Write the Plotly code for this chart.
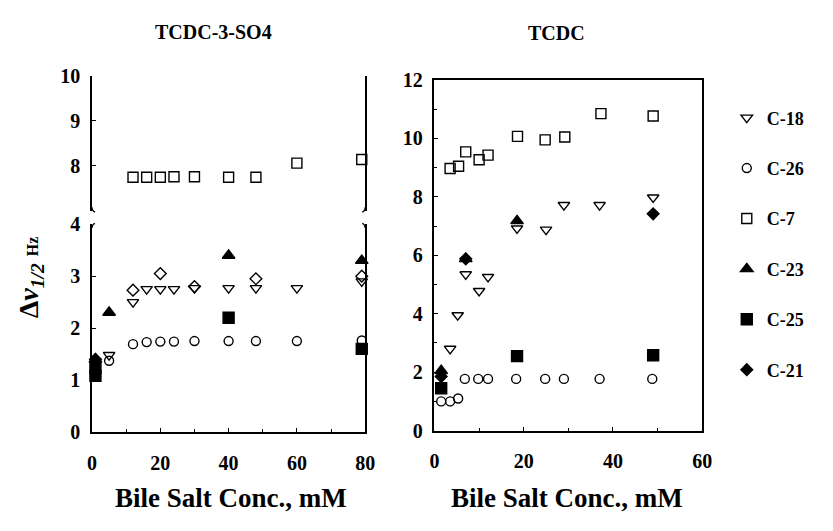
import plotly.graph_objects as go

# ---------------- data ----------------
# Left panel: TCDC-3-SO4
sulf_x = [1, 5, 12, 16, 20, 24, 30, 40, 48, 60, 79]
sulf_c18 = [1.30, 1.48, 2.50, 2.75, 2.75, 2.75, 2.77, 2.77, 2.77, 2.77, 2.90]
sulf_c26 = [1.30, 1.37, 1.69, 1.73, 1.74, 1.74, 1.75, 1.75, 1.75, 1.75, 1.76]
sulf_c7_x = [12, 16, 20, 24, 30, 40, 48, 60, 79]
sulf_c7 = [7.75, 7.75, 7.75, 7.76, 7.76, 7.75, 7.75, 8.06, 8.14]
sulf_c23_x = [1, 5, 40, 79]
sulf_c23 = [1.40, 2.30, 3.40, 3.30]
sulf_c25_x = [1, 1, 40, 79]
sulf_c25 = [1.08, 1.22, 2.20, 1.60]
sulf_c21_x = [1, 12, 20, 30, 48, 79]
sulf_c21 = [1.40, 2.73, 3.05, 2.80, 2.95, 3.00]

# Right panel: TCDC
tcdc_c18_x = [3.5, 5.2, 7, 10, 12, 18.5, 25, 29, 37, 49]
tcdc_c18 = [2.80, 3.95, 5.35, 4.78, 5.26, 6.92, 6.88, 7.72, 7.72, 7.98]
tcdc_c26_x = [1.5, 3.5, 5.3, 6.8, 9.8, 12, 18.3, 24.8, 29, 37, 48.8]
tcdc_c26 = [1.00, 1.00, 1.10, 1.77, 1.77, 1.77, 1.77, 1.77, 1.77, 1.77, 1.77]
tcdc_c7_x = [3.5, 5.4, 7, 10, 12, 18.6, 24.8, 29.2, 37.3, 49]
tcdc_c7 = [8.97, 9.05, 9.54, 9.27, 9.43, 10.07, 9.95, 10.05, 10.85, 10.77]
tcdc_c23_x = [1.5, 7, 18.5]
tcdc_c23 = [2.05, 5.88, 7.18]
tcdc_c25_x = [1.5, 18.5, 49]
tcdc_c25 = [1.45, 2.55, 2.58]
tcdc_c21_x = [1.5, 7, 49]
tcdc_c21 = [1.85, 5.88, 7.42]

series_names = ["C-18", "C-26", "C-7", "C-23", "C-25", "C-21"]
left_title = "TCDC-3-SO4"
right_title = "TCDC"
x_title = "Bile Salt Conc., mM"

# ---------------- styles ----------------
SERIF = "Liberation Serif"
BLACK = "black"
styles = {
    "C-18": dict(symbol="triangle-down-open", size=10),
    "C-26": dict(symbol="circle-open", size=9),
    "C-7": dict(symbol="square-open", size=10),
    "C-23": dict(symbol="triangle-up", size=11),
    "C-25": dict(symbol="square", size=11),
    "C-21": dict(symbol="diamond", size=9),
}

fig = go.Figure()


def add(name, x, y, xa, ya, show, symbol=None):
    st = styles[name]
    fig.add_trace(go.Scatter(
        x=x, y=y, mode="markers", name=name, legendgroup=name,
        showlegend=show, xaxis=xa, yaxis=ya, cliponaxis=False,
        marker=dict(symbol=symbol or st["symbol"], size=st["size"], color=BLACK,
                    line=dict(color=BLACK, width=1.4)),
    ))


# right panel (carries the legend), in legend order
add("C-18", tcdc_c18_x, tcdc_c18, "x3", "y3", True)
add("C-26", tcdc_c26_x, tcdc_c26, "x3", "y3", True)
add("C-7", tcdc_c7_x, tcdc_c7, "x3", "y3", True)
add("C-23", tcdc_c23_x, tcdc_c23, "x3", "y3", True)
add("C-25", tcdc_c25_x, tcdc_c25, "x3", "y3", True)
add("C-21", tcdc_c21_x, tcdc_c21, "x3", "y3", True)

# left panel, lower part of the broken axis
add("C-26", sulf_x, sulf_c26, "x", "y", False)
add("C-18", sulf_x, sulf_c18, "x", "y", False)
add("C-25", sulf_c25_x, sulf_c25, "x", "y", False)
add("C-23", sulf_c23_x, sulf_c23, "x", "y", False)
add("C-21", sulf_c21_x[:1], sulf_c21[:1], "x", "y", False)
add("C-21", sulf_c21_x[1:], sulf_c21[1:], "x", "y", False, symbol="diamond-open")
# left panel, upper part
add("C-7", sulf_c7_x, sulf_c7, "x", "y2", False)

# page body has an 8px margin: work in screen pixels and shift
OFF = 8
W, H = 833 - OFF, 531 - OFF
px = lambda v: (v - OFF) / W
py = lambda v: 1 - (v - OFF) / H

L_x0, L_x1 = 88.5, 366.7
R_x0, R_x1 = 437.3, 710.0
L_low = (439.0, 222.3)
L_up = (208.5, 67.0)
R_y = (437.7, 71.7)

tickfont = dict(family=SERIF, size=20, color=BLACK, weight="bold")
axis_common = dict(showgrid=False, zeroline=False, showline=True, linecolor=BLACK,
                   linewidth=1.5, ticks="inside", ticklen=4, tickcolor=BLACK,
                   tickfont=tickfont)

fig.update_layout(
    width=W, height=H, margin=dict(l=0, r=0, t=0, b=0),
    plot_bgcolor="white", paper_bgcolor="white",
    xaxis=dict(domain=[px(L_x0), px(L_x1)], range=[0, 80], anchor="y",
               tickvals=[0, 20, 40, 60, 80], mirror=False,
               minor=dict(dtick=10, ticks="inside", ticklen=3, tickcolor=BLACK),
               ticklabelstandoff=12, **axis_common),
    xaxis2=dict(domain=[px(L_x0), px(L_x1)], range=[0, 80], anchor="y2", side="top",
                matches="x", showticklabels=False, showgrid=False, zeroline=False,
                showline=True, linecolor=BLACK, linewidth=1.5, ticks=""),
    yaxis=dict(domain=[py(L_low[0]), py(L_low[1])], range=[0, 4], anchor="x",
               tickvals=[0, 1, 2, 3, 4], mirror=True, ticklabelstandoff=6, **axis_common),
    yaxis2=dict(domain=[py(L_up[0]), py(L_up[1])], range=[7, 10], anchor="x",
                tickvals=[8, 9, 10], mirror=True, ticklabelstandoff=6, **axis_common),
    xaxis3=dict(domain=[px(R_x0), px(R_x1)], range=[0, 60], anchor="y3",
                tickvals=[0, 20, 40, 60], mirror=True,
                minor=dict(dtick=10, ticks="inside", ticklen=3, tickcolor=BLACK),
                ticklabelstandoff=12, **axis_common),
    yaxis3=dict(domain=[py(R_y[0]), py(R_y[1])], range=[0, 12], anchor="x3",
                tickvals=[0, 2, 4, 6, 8, 10, 12], mirror=True,
                minor=dict(dtick=1, ticks="inside", ticklen=3, tickcolor=BLACK),
                ticklabelstandoff=6, **axis_common),
    legend=dict(x=px(735), y=py(92), xanchor="left", yanchor="top",
                font=dict(family=SERIF, size=18, color=BLACK, weight="bold"),
                traceorder="grouped", tracegroupgap=24, bgcolor="rgba(0,0,0,0)",
                itemsizing="trace"),
    showlegend=True,
)

title_font = dict(family=SERIF, size=20, color=BLACK, weight="bold")
xt_font = dict(family=SERIF, size=27, color=BLACK, weight="bold")
fig.add_annotation(text=left_title, x=px(212), y=py(22), xref="paper", yref="paper",
                   showarrow=False, font=title_font, xanchor="center", yanchor="middle")
fig.add_annotation(text=right_title, x=px(562), y=py(23), xref="paper", yref="paper",
                   showarrow=False, font=title_font, xanchor="center", yanchor="middle")
fig.add_annotation(text=x_title, x=px(230), y=py(508), xref="paper",
                   yref="paper", showarrow=False, font=xt_font, xanchor="center", yanchor="middle")
fig.add_annotation(text=x_title, x=px(572), y=py(508), xref="paper",
                   yref="paper", showarrow=False, font=xt_font, xanchor="center", yanchor="middle")
fig.add_annotation(
    text="<b>Δ<i>ν</i></b><sub><i><b>1/2</b></i></sub> <span style='font-size:16px'><b>Hz</b></span>",
    x=px(26), y=py(278), xref="paper", yref="paper", showarrow=False, textangle=-90,
    font=dict(family=SERIF, size=28, color=BLACK), xanchor="center", yanchor="middle")

# small hooks at the axis break
for xv, sgn in [(L_x0, 1), (L_x1, -1)]:
    for yv, d in [(L_up[0], -1), (L_low[1], 1)]:
        fig.add_shape(type="path", xref="paper", yref="paper",
                      path=f"M {px(xv)},{py(yv + d*4)} Q {px(xv)},{py(yv)} {px(xv + sgn*3)},{py(yv - d*1)}",
                      line=dict(color=BLACK, width=1.3))

fig.write_html("out.html")
